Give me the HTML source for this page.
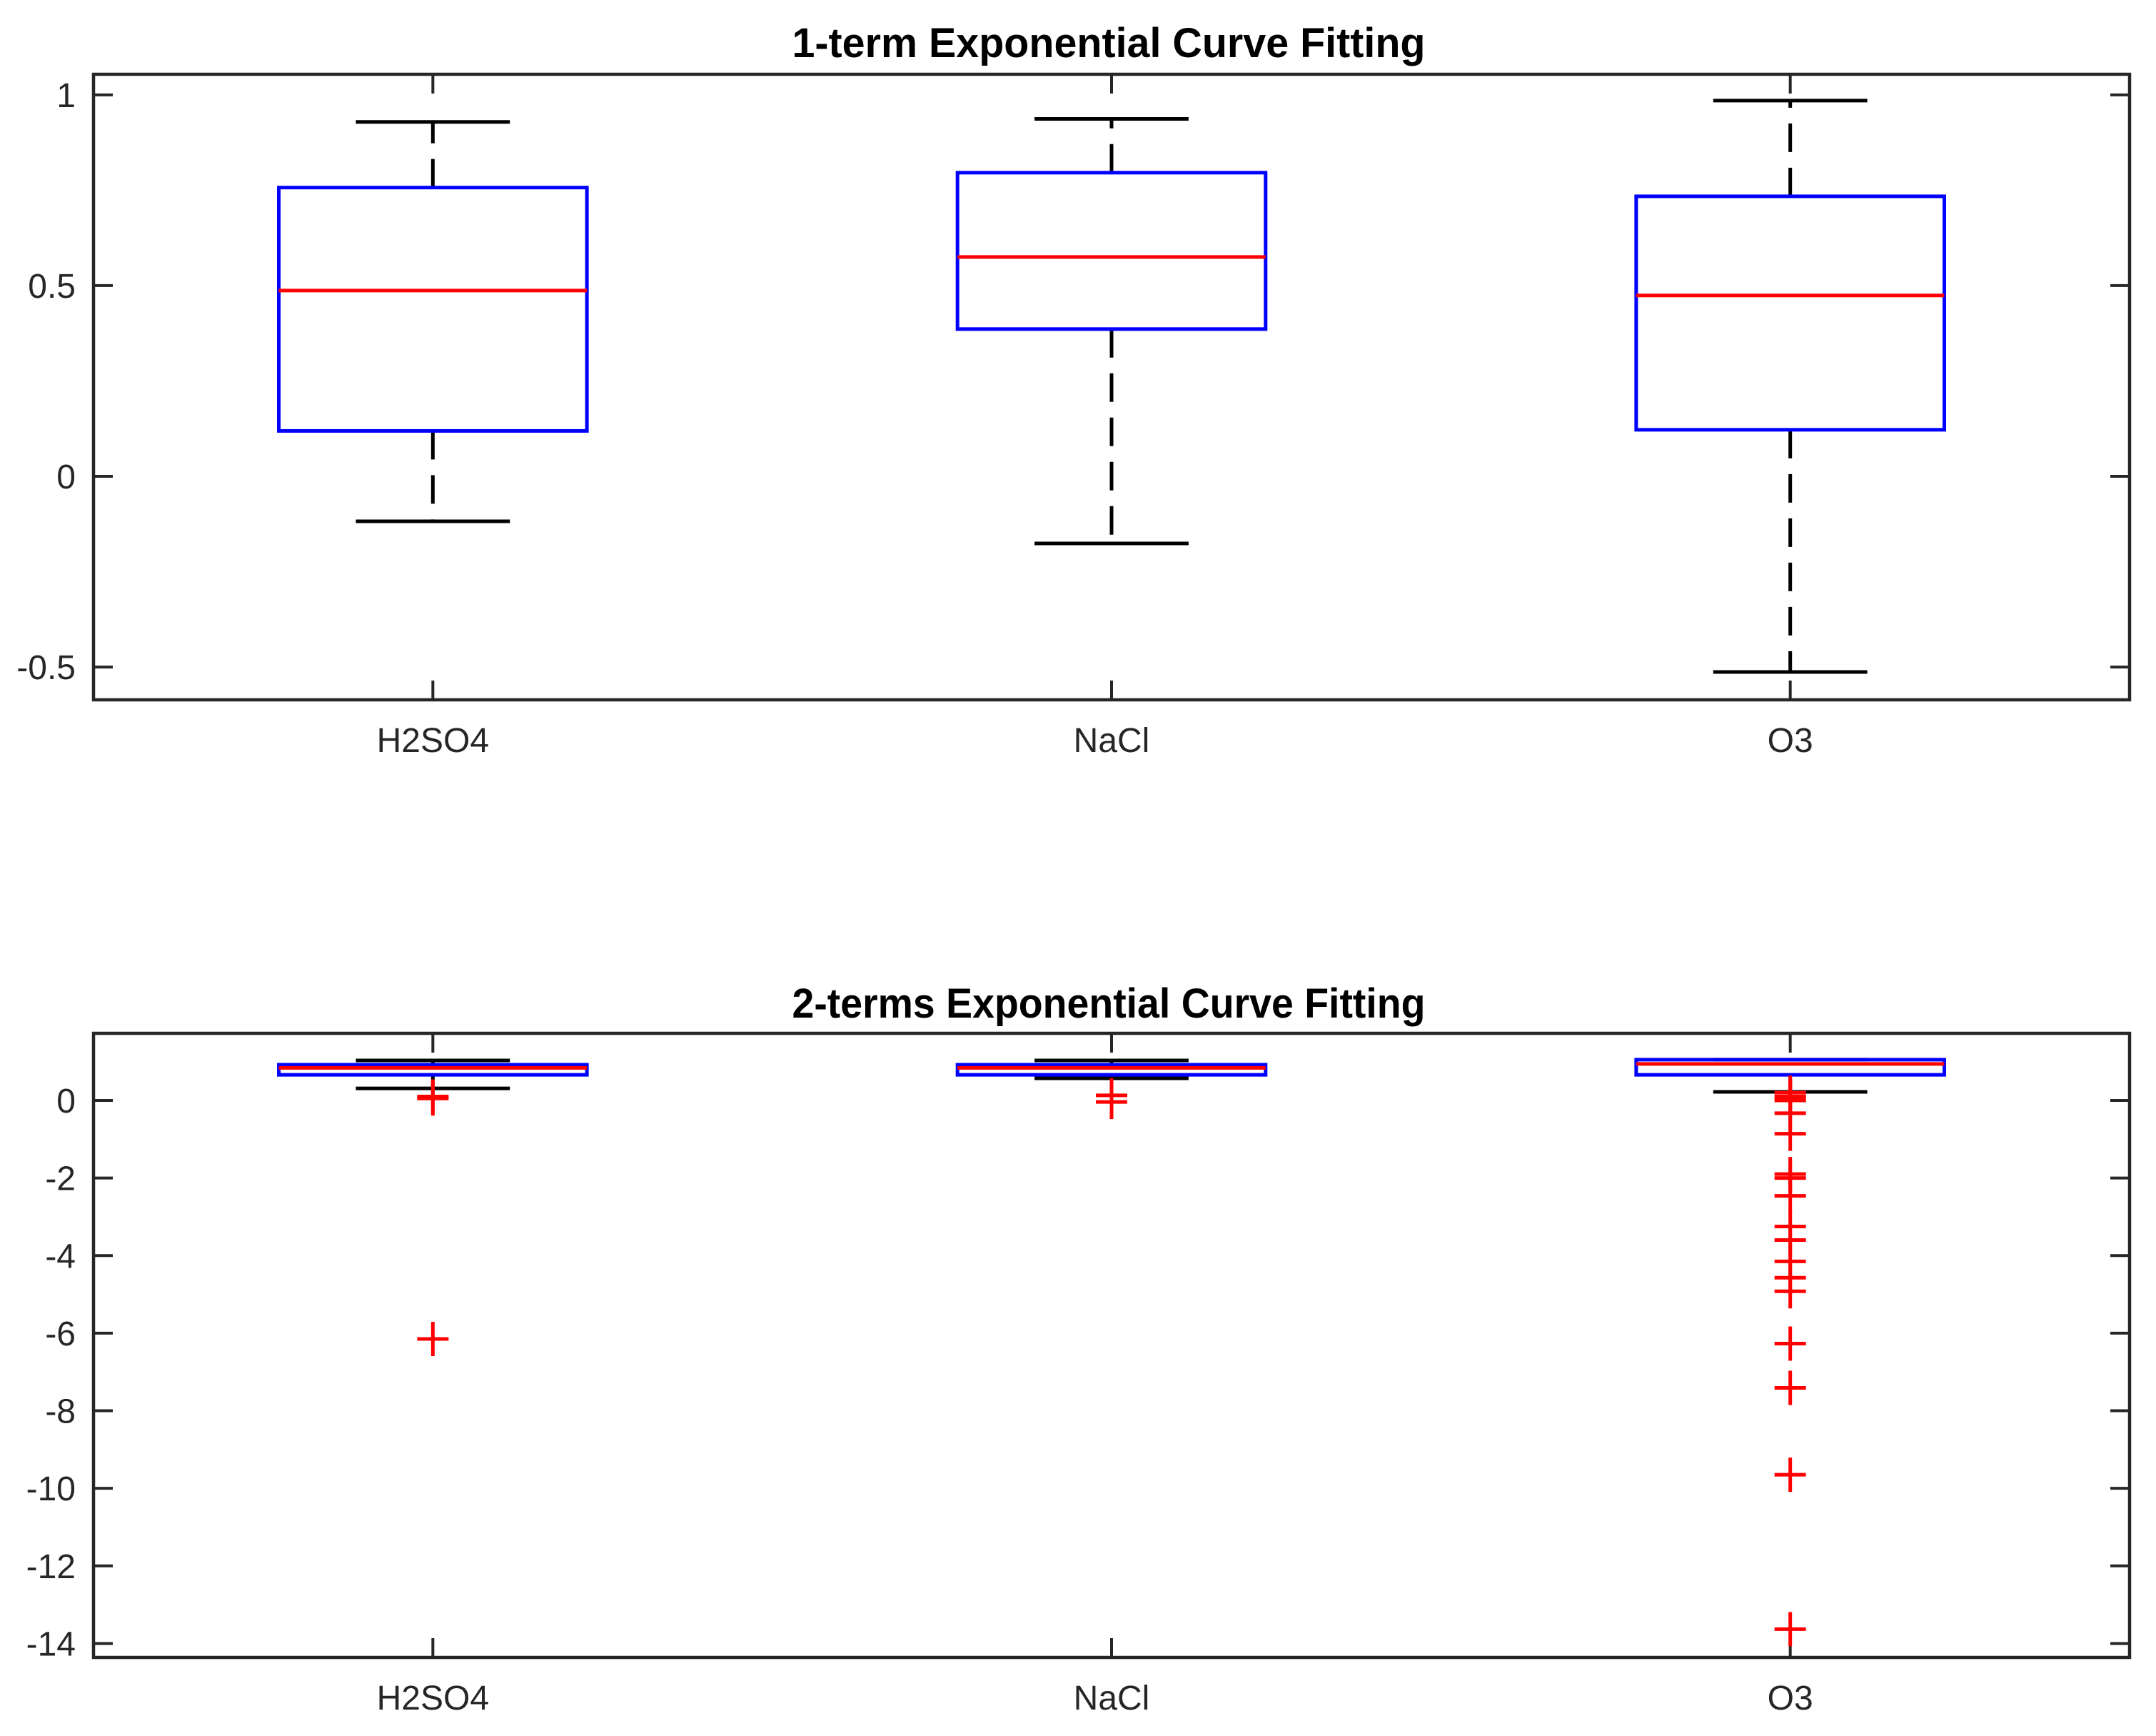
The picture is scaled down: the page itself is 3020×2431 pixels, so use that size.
<!DOCTYPE html>
<html><head><meta charset="utf-8"><style>
html,body{margin:0;padding:0;background:#fff;}
svg{display:block;}
text{font-family:"Liberation Sans",Arial,sans-serif;}
</style></head><body>
<svg id="fig" width="3020" height="2431" viewBox="0 0 3020 2431" xmlns="http://www.w3.org/2000/svg">
<rect width="3020" height="2431" fill="#fff"/>
<g id="p1"></g>
<g id="p2"></g>
</svg>
<script>
const categories = ["H2SO4","NaCl","O3"];
// top panel: 1-term
const top_q1 = [0.119, 0.386, 0.122];
const top_median = [0.487, 0.575, 0.474];
const top_q3 = [0.757, 0.796, 0.734];
const top_lowWhisker = [-0.118, -0.176, -0.513];
const top_highWhisker = [0.929, 0.937, 0.985];
const top_outliers = [[], [], []];
const top_ticks = [1, 0.5, 0, -0.5];
const top_tickLabels = ["1", "0.5", "0", "-0.5"];
// bottom panel: 2-terms
const bot_q1 = [0.66, 0.66, 0.66];
const bot_median = [0.84, 0.84, 0.94];
const bot_q3 = [0.92, 0.92, 1.05];
const bot_lowWhisker = [0.31, 0.57, 0.22];
const bot_highWhisker = [1.03, 1.03, 1.05];
const bot_outliers = [
  [0.1, 0.05, -6.15],
  [0.13, -0.04],
  [0.2, 0.1, 0.05, 0.0, -0.33, -0.86, -1.9, -2.0, -2.46, -3.25, -3.6, -4.15, -4.57, -4.92, -6.27, -7.41, -9.65, -13.63]
];
const bot_ticks = [0, -2, -4, -6, -8, -10, -12, -14];
const bot_tickLabels = ["0", "-2", "-4", "-6", "-8", "-10", "-12", "-14"];

const NS = "http://www.w3.org/2000/svg";
function mk(parent, tag, attrs, name) {
  const el = document.createElementNS(NS, tag);
  for (const k in attrs) el.setAttribute(k, attrs[k]);
  
  
  parent.appendChild(el);
  return el;
}
const AX_L = 131, AX_R = 2983;
function xScale(i) { return AX_L + (i + 0.5) * (AX_R - AX_L) / 3; }
const halfBox = 0.227 * (AX_R - AX_L) / 3;
const halfCap = halfBox / 2;

function panel(g, cfg) {
  const yS = v => cfg.top + (cfg.ymax - v) / (cfg.ymax - cfg.ymin) * (cfg.bottom - cfg.top);
  const t = mk(g, 'text', {x: 1553, y: cfg.titleY, 'font-size': 58, 'font-weight': 'bold', 'text-anchor': 'middle', fill: '#000', textLength: 887, lengthAdjust: 'spacingAndGlyphs'}, 'chart-title');
  t.textContent = cfg.title;
  cfg.ticks.forEach((v, i) => {
    const y = yS(v);
    mk(g, 'line', {x1: AX_L, x2: AX_L + 27, y1: y, y2: y, stroke: '#262626', 'stroke-width': 4}, 'y-tick-left');
    mk(g, 'line', {x1: AX_R, x2: AX_R - 27, y1: y, y2: y, stroke: '#262626', 'stroke-width': 4}, 'y-tick-right');
    const lb = mk(g, 'text', {x: 106, y: y + 17, 'font-size': 48, 'text-anchor': 'end', fill: '#262626'}, 'y-tick-label');
    lb.textContent = cfg.tickLabels[i];
  });
  categories.forEach((c, i) => {
    const x = xScale(i);
    mk(g, 'line', {x1: x, x2: x, y1: cfg.top, y2: cfg.top + 27, stroke: '#262626', 'stroke-width': 4}, 'x-tick-top');
    mk(g, 'line', {x1: x, x2: x, y1: cfg.bottom, y2: cfg.bottom - 27, stroke: '#262626', 'stroke-width': 4}, 'x-tick-bottom');
    const lb = mk(g, 'text', {x: x, y: cfg.bottom + 73, 'font-size': 48, 'text-anchor': 'middle', fill: '#262626'}, 'x-tick-label');
    lb.textContent = c;
  });
  categories.forEach((c, i) => {
    const x = xScale(i);
    const d = cfg.data;
    mk(g, 'line', {x1: x, x2: x, y1: yS(d.q3[i]), y2: yS(d.hi[i]), stroke: '#000', 'stroke-width': 5, 'stroke-dasharray': '40,22'}, 'upper-whisker');
    mk(g, 'line', {x1: x, x2: x, y1: yS(d.q1[i]), y2: yS(d.lo[i]), stroke: '#000', 'stroke-width': 5, 'stroke-dasharray': '40,22'}, 'lower-whisker');
    mk(g, 'line', {x1: x - halfCap, x2: x + halfCap, y1: yS(d.hi[i]), y2: yS(d.hi[i]), stroke: '#000', 'stroke-width': 5}, 'upper-cap');
    mk(g, 'line', {x1: x - halfCap, x2: x + halfCap, y1: yS(d.lo[i]), y2: yS(d.lo[i]), stroke: '#000', 'stroke-width': 5}, 'lower-cap');
    mk(g, 'rect', {x: x - halfBox, y: yS(d.q3[i]), width: 2 * halfBox, height: yS(d.q1[i]) - yS(d.q3[i]), fill: 'none', stroke: '#0000ff', 'stroke-width': 5}, 'box-' + c.toLowerCase());
    mk(g, 'line', {x1: x - halfBox, x2: x + halfBox, y1: yS(d.med[i]), y2: yS(d.med[i]), stroke: '#ff0000', 'stroke-width': 5}, 'median-' + c.toLowerCase());
    d.out[i].forEach(v => {
      const y = yS(v);
      mk(g, 'line', {x1: x - 22, x2: x + 22, y1: y, y2: y, stroke: '#ff0000', 'stroke-width': 5}, 'outlier-h');
      mk(g, 'line', {x1: x, x2: x, y1: y - 24, y2: y + 24, stroke: '#ff0000', 'stroke-width': 5}, 'outlier-v');
    });
  });
  mk(g, 'rect', {x: AX_L, y: cfg.top, width: AX_R - AX_L, height: cfg.bottom - cfg.top, fill: 'none', stroke: '#262626', 'stroke-width': 4.5}, 'axes-frame');
}

panel(document.getElementById('p1'), {
  top: 104, bottom: 980, ymax: 1.054, ymin: -0.586, titleY: 80,
  title: '1-term Exponential Curve Fitting',
  ticks: top_ticks, tickLabels: top_tickLabels,
  data: {q1: top_q1, q3: top_q3, med: top_median, lo: top_lowWhisker, hi: top_highWhisker, out: top_outliers}
});
panel(document.getElementById('p2'), {
  top: 1447, bottom: 2321, ymax: 1.73, ymin: -14.36, titleY: 1425,
  title: '2-terms Exponential Curve Fitting',
  ticks: bot_ticks, tickLabels: bot_tickLabels,
  data: {q1: bot_q1, q3: bot_q3, med: bot_median, lo: bot_lowWhisker, hi: bot_highWhisker, out: bot_outliers}
});
</script>
</body></html>
